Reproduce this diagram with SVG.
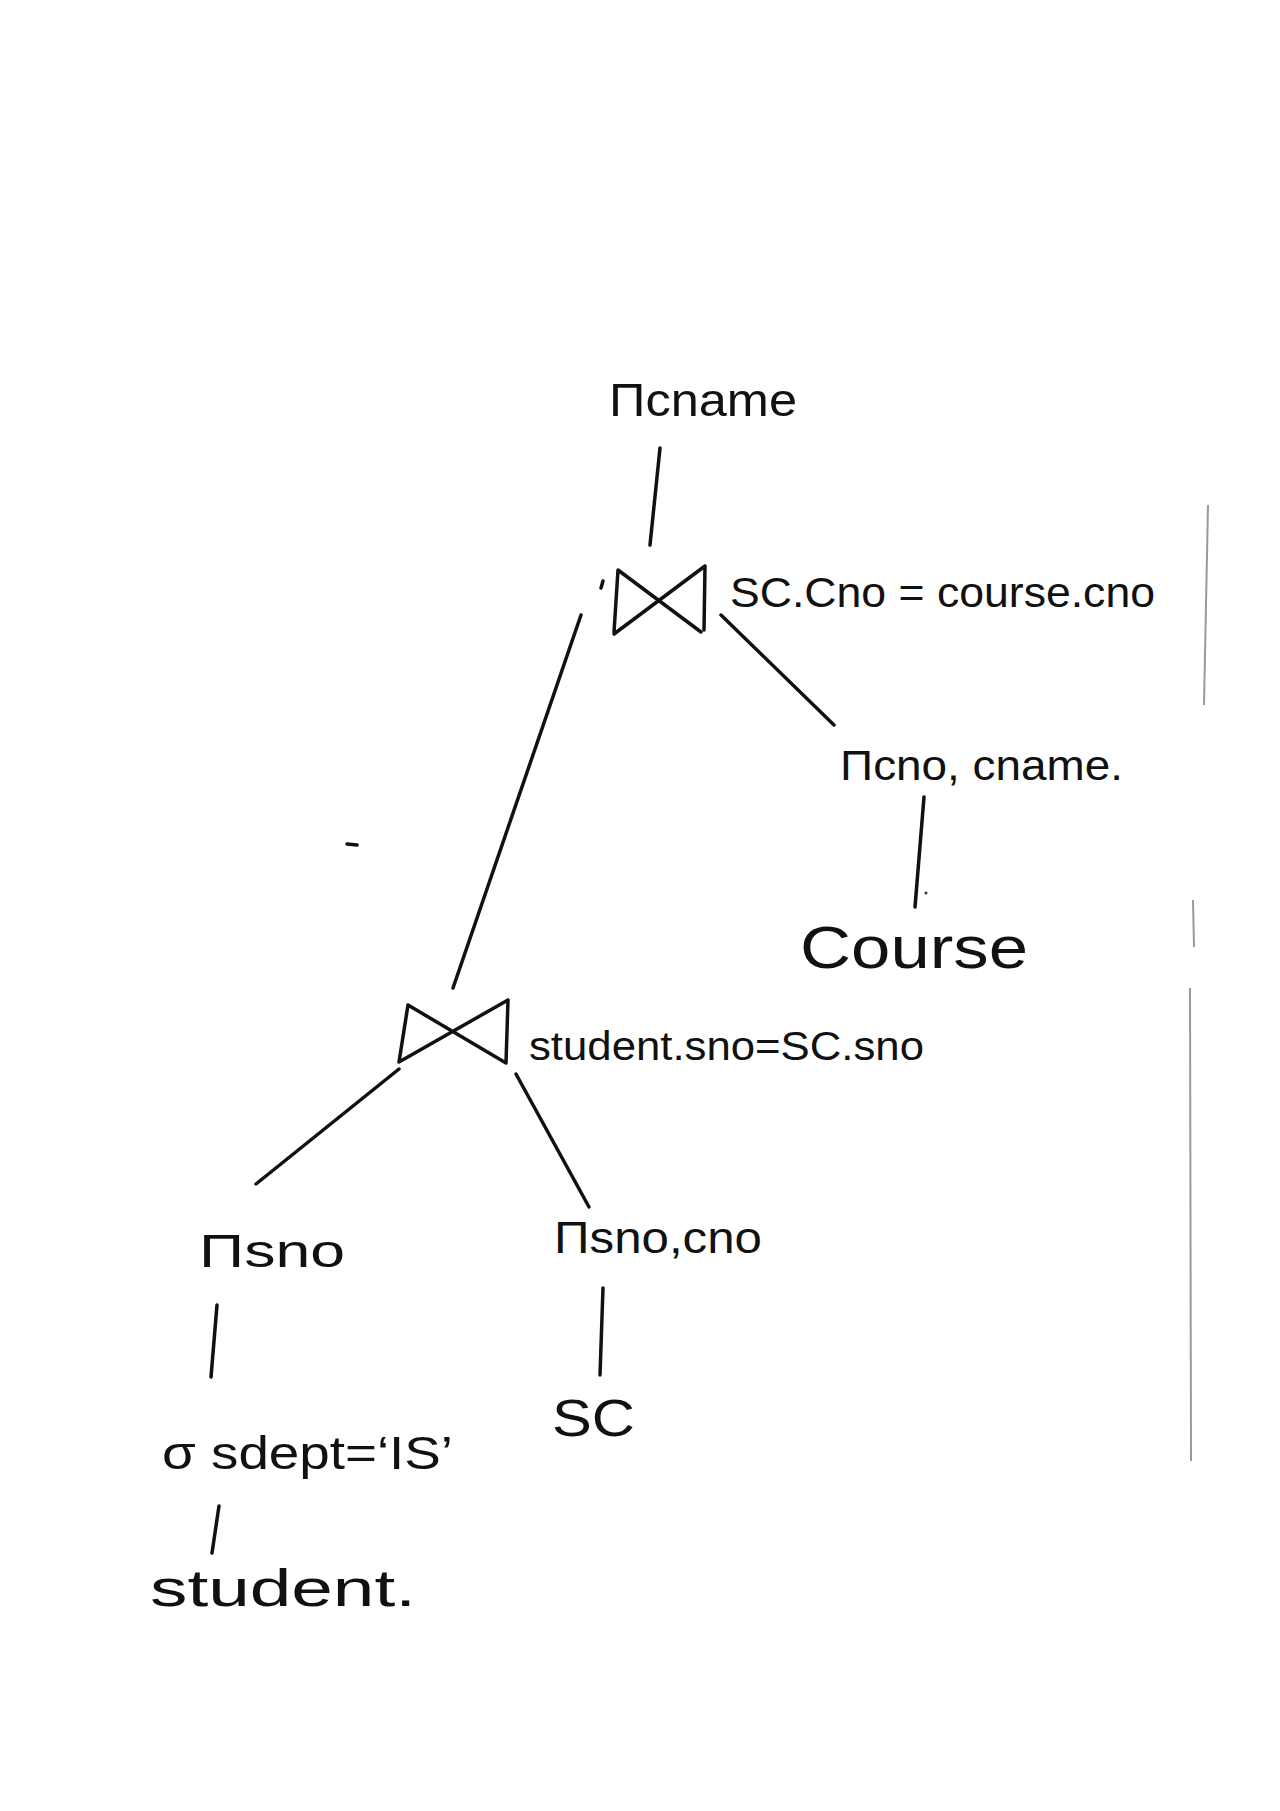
<svg xmlns="http://www.w3.org/2000/svg" width="1280" height="1811" viewBox="0 0 1280 1811">
<style>
.t{font-family:"Liberation Sans","DejaVu Sans",sans-serif;fill:#111;}
.s{stroke:#111;stroke-width:3.5;fill:none;stroke-linecap:round;stroke-linejoin:round;}
.e{stroke:#999;stroke-width:2;fill:none;}
</style>
<rect width="1280" height="1811" fill="#fff"/>
<g id="edge-marks">
<path class="e" d="M1208 505 L1204 705"/>
<path class="e" d="M1193 900 L1194 947" stroke-width="4" stroke="#555"/>
<path class="e" d="M1190 988 L1191 1461"/>
</g>
<g id="connectors">
<path class="s" d="M660 448 L650 545"/>
<path class="s" d="M721 615 L834 725"/>
<path class="s" d="M581 615 L453 988"/>
<path class="s" d="M924 797 L915 907"/>
<path class="s" d="M399 1069 L256 1184"/>
<path class="s" d="M516 1074 L589 1207"/>
<path class="s" d="M217 1305 L211 1377"/>
<path class="s" d="M603 1288 L600 1375"/>
<path class="s" d="M219 1506 L212 1553"/>
</g>
<g id="marks">
<path class="s" d="M347 844 L357 845" stroke-width="2.5"/>
<path class="s" d="M603 581 L601 588" stroke-width="2"/>
<circle cx="926" cy="893" r="1.5" fill="#333"/>
</g>
<g id="n-proj-cname"><text class="t" x="609" y="416" font-size="46" textLength="188" lengthAdjust="spacingAndGlyphs">Πcname</text></g>
<g id="n-join1">
<path class="s" d="M618 570 L614 632 M618 570 L701 632 M705 566 L704 630 M705 566 L614 634"/>
<text class="t" x="730" y="607" font-size="42" textLength="425" lengthAdjust="spacingAndGlyphs">SC.Cno = course.cno</text>
</g>
<g id="n-proj-course"><text class="t" x="840" y="780" font-size="42" textLength="283" lengthAdjust="spacingAndGlyphs">Πcno, cname.</text></g>
<g id="n-course"><text class="t" x="800" y="968" font-size="60" textLength="228" lengthAdjust="spacingAndGlyphs">Course</text></g>
<g id="n-join2">
<path class="s" d="M408 1005 L399 1062 M408 1005 L506 1063 M508 1000 L506 1063 M508 1000 L399 1062"/>
<text class="t" x="529" y="1060" font-size="40" textLength="395" lengthAdjust="spacingAndGlyphs">student.sno=SC.sno</text>
</g>
<g id="n-proj-sno"><text class="t" x="199" y="1267" font-size="46" textLength="146" lengthAdjust="spacingAndGlyphs">Πsno</text></g>
<g id="n-proj-snocno"><text class="t" x="554" y="1253" font-size="44" textLength="208" lengthAdjust="spacingAndGlyphs">Πsno,cno</text></g>
<g id="n-select"><text class="t" x="162" y="1469" font-size="46" textLength="291" lengthAdjust="spacingAndGlyphs">σ sdept=‘IS’</text></g>
<g id="n-sc"><text class="t" x="552" y="1436" font-size="52" textLength="83" lengthAdjust="spacingAndGlyphs">SC</text></g>
<g id="n-student"><text class="t" x="150" y="1606" font-size="52" textLength="266" lengthAdjust="spacingAndGlyphs">student.</text></g>
</svg>
